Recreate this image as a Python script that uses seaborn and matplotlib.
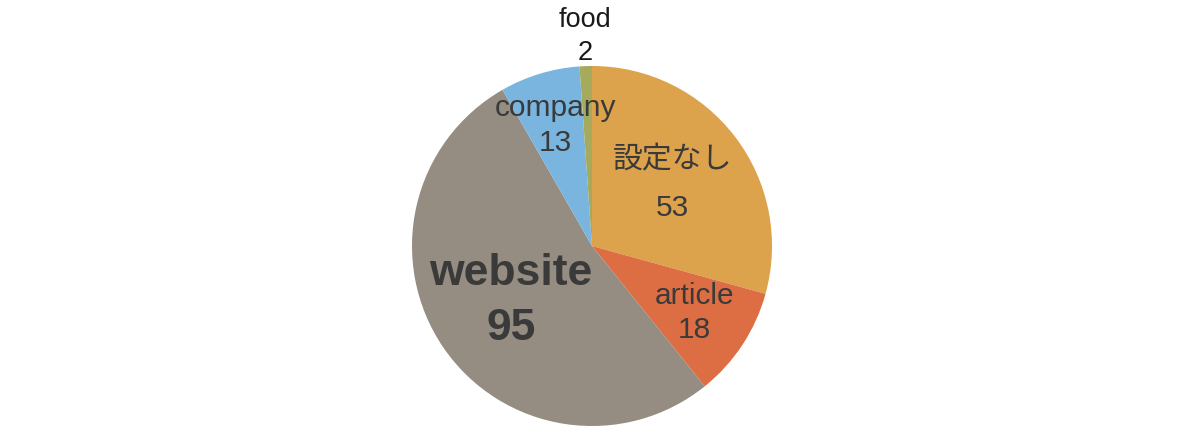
import numpy as np
import matplotlib
matplotlib.use('Agg')
import matplotlib.pyplot as plt
import seaborn as sns

sns.set_theme(style='white')
plt.rcParams['font.family'] = ['Liberation Sans', 'Noto Sans CJK JP', 'DejaVu Sans']

# data, clockwise from 12 o'clock
labels = ['設定なし', 'article', 'website', 'company', 'food']
values = [53, 18, 95, 13, 2]
colors = ['#DCA24C', '#DD6D43', '#958C82', '#7AB5E0', '#A6AA5C']

# label styling per slice
label_dist = [0.565, 0.68, 0.545, 0.70, 1.165]
label_size = [21.5, 21.5, 32, 21.5, 19.5]
label_weight = ['normal', 'normal', 'bold', 'normal', 'normal']
label_color = ['#3a3a3a', '#3a3a3a', '#3a3a3a', '#3a3a3a', '#1a1a1a']
label_spacing = [1.9, 1.25, 1.45, 1.3, 1.35]

W, H = 1180, 432
fig = plt.figure(figsize=(W / 100, H / 100), dpi=100)
cx, cy, r = 592, H - 246, 180
ax = fig.add_axes([(cx - r) / W, (cy - r) / H, 2 * r / W, 2 * r / H])

wedges, _ = ax.pie(values, colors=colors, startangle=90, counterclock=False,
                   radius=1, wedgeprops=dict(linewidth=0))
ax.set_xlim(-1, 1)
ax.set_ylim(-1, 1)
ax.set_aspect('equal')
ax.axis('off')

for w, lab, v, d, s, fw, c, ls in zip(wedges, labels, values, label_dist, label_size,
                                       label_weight, label_color, label_spacing):
    ang = np.deg2rad((w.theta1 + w.theta2) / 2)
    ax.text(d * np.cos(ang), d * np.sin(ang), f'{lab}\n{v}', ha='center', va='center',
            fontsize=s, fontweight=fw, color=c, linespacing=ls,
            family=['Liberation Sans', 'Noto Sans CJK JP'], clip_on=False)

fig.savefig('out.png', dpi=100, facecolor='white')
